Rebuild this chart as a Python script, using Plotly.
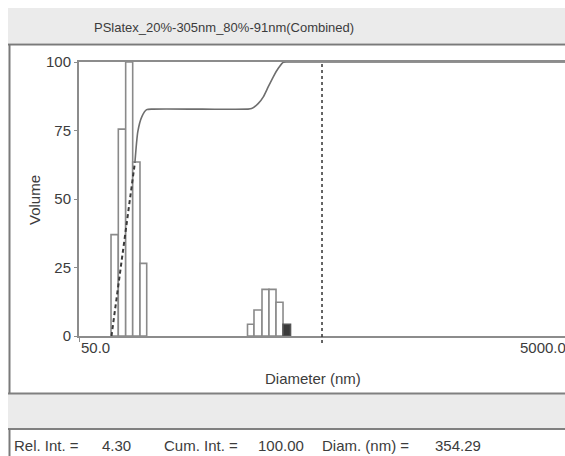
import math
import plotly.graph_objects as go

# ---------------- data ----------------
TITLE = "PSlatex_20%-305nm_80%-91nm(Combined)"
BAR_LEFT = [67.6, 72.4, 77.6, 82.9, 88.8,
            244.4, 259.8, 280.2, 299.2, 319.7, 341.5]
BAR_RIGHT = [72.4, 77.6, 82.9, 88.8, 94.6,
             259.8, 280.2, 299.2, 319.7, 341.5, 366.5]
BAR_VOLUME = [37.0, 75.5, 100.0, 63.5, 26.5,
              4.3, 9.5, 17.0, 17.0, 12.3, 4.3]
SELECTED_BAR = 10

CUM_DIAM = [67.9, 72.4, 77.6, 82.9, 84.7, 87.0, 90.3, 94.6, 100.0, 160.0,
            245.0, 254.0, 270.7, 283.7, 297.3, 311.6, 326.6, 342.3, 358.9, 380.0, 4860.0]
CUM_VOLUME = [0.0, 18.0, 38.0, 57.0, 63.5, 74.6, 80.0, 82.6, 82.8, 82.8,
              82.8, 83.0, 84.9, 87.3, 91.0, 94.6, 97.7, 99.9, 100.0, 100.0, 100.0]
CUM_DASHED_UPTO = 4  # index where the cumulative line stops being dashed

CURSOR_DIAM = 493.0
X_MIN, X_MAX = 50.0, 4860.0
X_LABELS = [(50.0, "50.0"), (5000.0, "5000.0")]
Y_TICKS = [0, 25, 50, 75, 100]

STATUS = [("Rel. Int. =", 12), ("4.30", 100), ("Cum. Int. =", 162),
          ("100.00", 256), ("Diam. (nm) =", 320), ("354.29", 433)]

# ---------------- layout geometry ----------------
W, H = 565, 456
L, R, T, B = 79, 0, 62, 120
PW, PH = W - L - R, H - T - B
FONT = "Liberation Sans, Arial, sans-serif"
TXT = "#3c3c3c"
EDGE = "#8a8a8a"


def px(xp):
    return (xp - L) / PW


def py(yp):
    return (H - B - yp) / PH


fig = go.Figure()

# bars
for i, (lo, hi, v) in enumerate(zip(BAR_LEFT, BAR_RIGHT, BAR_VOLUME)):
    sel = i == SELECTED_BAR
    fig.add_trace(go.Scatter(
        x=[lo, lo, hi, hi, lo], y=[0, v, v, 0, 0],
        mode="lines", fill="toself",
        fillcolor="#3a3a3a" if sel else "white",
        line=dict(color="#555555" if sel else EDGE, width=1.6),
        hoverinfo="skip", showlegend=False))

# cumulative curve
fig.add_trace(go.Scatter(
    x=CUM_DIAM[:CUM_DASHED_UPTO + 1], y=CUM_VOLUME[:CUM_DASHED_UPTO + 1],
    mode="lines", line=dict(color="#3a3a3a", width=2, dash="4px,3px"),
    hoverinfo="skip", showlegend=False))
fig.add_trace(go.Scatter(
    x=CUM_DIAM[CUM_DASHED_UPTO:], y=CUM_VOLUME[CUM_DASHED_UPTO:],
    mode="lines", line=dict(color="#6e6e6e", width=1.6, shape="spline", smoothing=0.6),
    hoverinfo="skip", showlegend=False))

shapes = [
    # title band
    dict(type="rect", xref="paper", yref="paper", x0=px(8), x1=px(W), y0=py(43), y1=py(8),
         fillcolor="#ebebeb", line=dict(width=0), layer="below"),
    dict(type="line", xref="paper", yref="paper", x0=px(8), x1=px(W), y0=py(44.5), y1=py(44.5),
         line=dict(color="#7a7a7a", width=2)),
    # panel left border
    dict(type="line", xref="paper", yref="paper", x0=px(9.5), x1=px(9.5), y0=py(44), y1=py(394),
         line=dict(color="#7a7a7a", width=2)),
    # bottom border and status band
    dict(type="rect", xref="paper", yref="paper", x0=px(8), x1=px(W), y0=py(428), y1=py(394),
         fillcolor="#ebebeb", line=dict(width=0), layer="below"),
    dict(type="line", xref="paper", yref="paper", x0=px(8), x1=px(W), y0=py(393.5), y1=py(393.5),
         line=dict(color="#808080", width=2)),
    dict(type="line", xref="paper", yref="paper", x0=px(8), x1=px(W), y0=py(429), y1=py(429),
         line=dict(color="#808080", width=2)),
    dict(type="line", xref="paper", yref="paper", x0=px(9.5), x1=px(9.5), y0=py(429), y1=py(H),
         line=dict(color="#7a7a7a", width=2)),
    # cursor
    dict(type="line", xref="x", yref="paper", x0=CURSOR_DIAM, x1=CURSOR_DIAM, y0=py(343), y1=1,
         line=dict(color="#333333", width=1.5, dash="3px,3px")),
]

lx0, lx1 = math.log10(X_MIN), math.log10(X_MAX)
annotations = [
    dict(text=TITLE, xref="paper", yref="paper", x=px(224), y=py(27), showarrow=False,
         xanchor="center", yanchor="middle", font=dict(size=13, color=TXT, family=FONT)),
    dict(text="Volume", xref="paper", yref="paper", x=px(35), y=py(200), showarrow=False,
         textangle=-90, xanchor="center", yanchor="middle", font=dict(size=15, color=TXT, family=FONT)),
    dict(text="Diameter (nm)", xref="paper", yref="paper", x=px(313), y=py(378), showarrow=False,
         xanchor="center", yanchor="middle", font=dict(size=15, color=TXT, family=FONT)),
]
for i, (v, lab) in enumerate(X_LABELS):
    frac = (math.log10(v) - lx0) / (lx1 - lx0)
    annotations.append(dict(text=lab, xref="paper", yref="paper", x=frac, y=py(347),
                            showarrow=False, xanchor="left" if i == 0 else "right",
                            yanchor="middle", font=dict(size=15, color=TXT, family=FONT)))
for lab, xl in STATUS:
    annotations.append(dict(text=lab, xref="paper", yref="paper", x=px(xl), y=py(445),
                            showarrow=False, xanchor="left", yanchor="middle",
                            font=dict(size=15, color=TXT, family=FONT)))

fig.update_layout(
    width=W, height=H, margin=dict(l=L, r=R, t=T, b=B, pad=0),
    paper_bgcolor="white", plot_bgcolor="white",
    shapes=shapes, annotations=annotations, showlegend=False,
    xaxis=dict(type="log", range=[lx0, lx1], showgrid=False, zeroline=False,
               showline=True, mirror=True, linecolor="#8c8c8c", linewidth=2,
               tickvals=[X_MIN], ticks="outside", ticklen=4, tickcolor="#8c8c8c",
               showticklabels=False),
    yaxis=dict(range=[0, 100], showgrid=False, zeroline=False,
               showline=True, linecolor="#8c8c8c", linewidth=2,
               tickvals=Y_TICKS, ticks="outside", ticklen=3, tickcolor="#8c8c8c",
               tickfont=dict(size=15, color=TXT, family=FONT)),
)

fig.write_html("out.html")
